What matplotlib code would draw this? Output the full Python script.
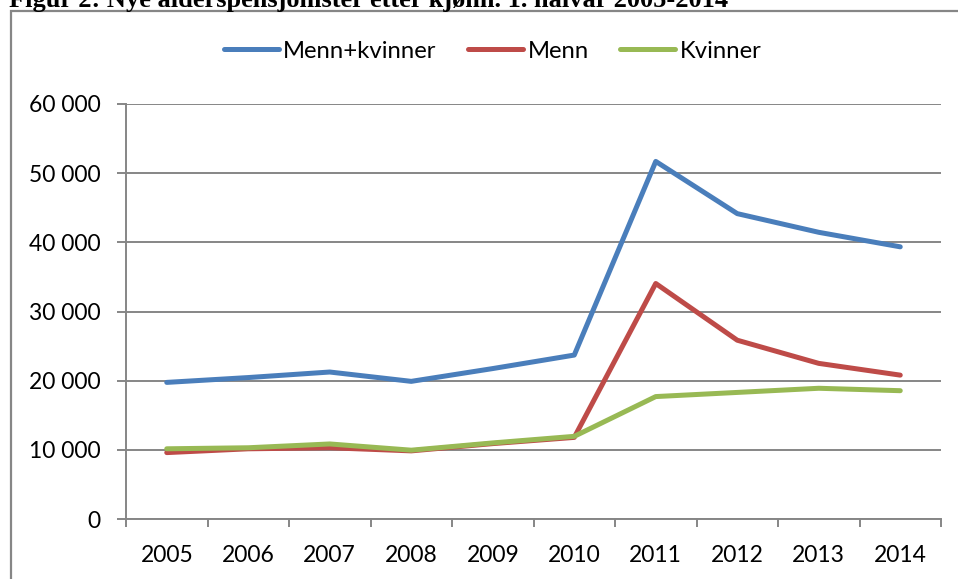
import numpy as np
import matplotlib
matplotlib.use("Agg")
import matplotlib.pyplot as plt
from matplotlib.patches import Rectangle

# Data (new old-age pensioners, 1st half-year)
years = ['2005', '2006', '2007', '2008', '2009', '2010', '2011', '2012', '2013', '2014']
mennKvinner = [19750, 20450, 21250, 19900, 21750, 23700, 51700, 44150, 41450, 39350]
menn = [9600, 10150, 10300, 9850, 10900, 11800, 34050, 25850, 22500, 20800]
kvinner = [10150, 10300, 10850, 9950, 11000, 11950, 17700, 18300, 18900, 18550]
yTicks = [0, 10000, 20000, 30000, 40000, 50000, 60000]
yTickLabels = ['0', '10 000', '20 000', '30 000', '40 000', '50 000', '60 000']

blue = '#4A7EBB'
red = '#BE4B48'
green = '#98B954'
grey = '#868686'

plt.rcParams['font.family'] = ['Lato', 'DejaVu Sans']

fig = plt.figure(figsize=(9.58, 5.79), dpi=100)
ax = fig.add_axes([126 / 958, 1 - 519 / 579, (941 - 126) / 958, (519 - 104) / 579])

x = np.arange(len(years))
ax.plot(x, mennKvinner, color=blue, lw=3.6, label='Menn+kvinner', solid_capstyle='round')
ax.plot(x, menn, color=red, lw=3.6, label='Menn', solid_capstyle='round')
ax.plot(x, kvinner, color=green, lw=3.6, label='Kvinner', solid_capstyle='round')

ax.set_xlim(-0.5, len(years) - 0.5)
ax.set_ylim(0, 60000)
ax.set_yticks(yTicks)
ax.set_yticklabels(yTickLabels)
ax.set_xticks(x)
ax.set_xticklabels(years)
ax.set_xticks(np.arange(-0.5, len(years)), minor=True)

ax.yaxis.grid(True, color=grey, lw=1.4)
ax.set_axisbelow(True)
for side in ['top', 'right']:
    ax.spines[side].set_visible(False)
for side in ['left', 'bottom']:
    ax.spines[side].set_color(grey)
    ax.spines[side].set_linewidth(1.4)

ax.tick_params(axis='y', which='major', length=6.5, width=1.4, color=grey, pad=12, labelsize=16.5)
ax.tick_params(axis='x', which='major', length=0, pad=19, labelsize=16.5)
ax.tick_params(axis='x', which='minor', length=5.5, width=1.4, color=grey)

fig.legend(loc='center', bbox_to_anchor=(0.514, 1 - 51 / 579), ncol=3, frameon=False,
           fontsize=17.2, handlelength=2.3, handletextpad=0.2, columnspacing=1.3)

# Chart area border (cut off at right and bottom in the source image)
fig.patches.append(Rectangle((10.5 / 958, -0.05), 1.2, 1.05 - 11 / 579, transform=fig.transFigure,
                             fill=False, edgecolor=grey, lw=1.6))

# Caption, mostly cut off at the top of the image
fig.text(9 / 958, 1 - 6.5 / 579, 'Figur 2: Nye alderspensjonister etter kjønn. 1. halvår 2005-2014',
         family='Liberation Serif', weight='bold', fontsize=19, va='baseline', ha='left')

fig.savefig('out.png', dpi=100)
